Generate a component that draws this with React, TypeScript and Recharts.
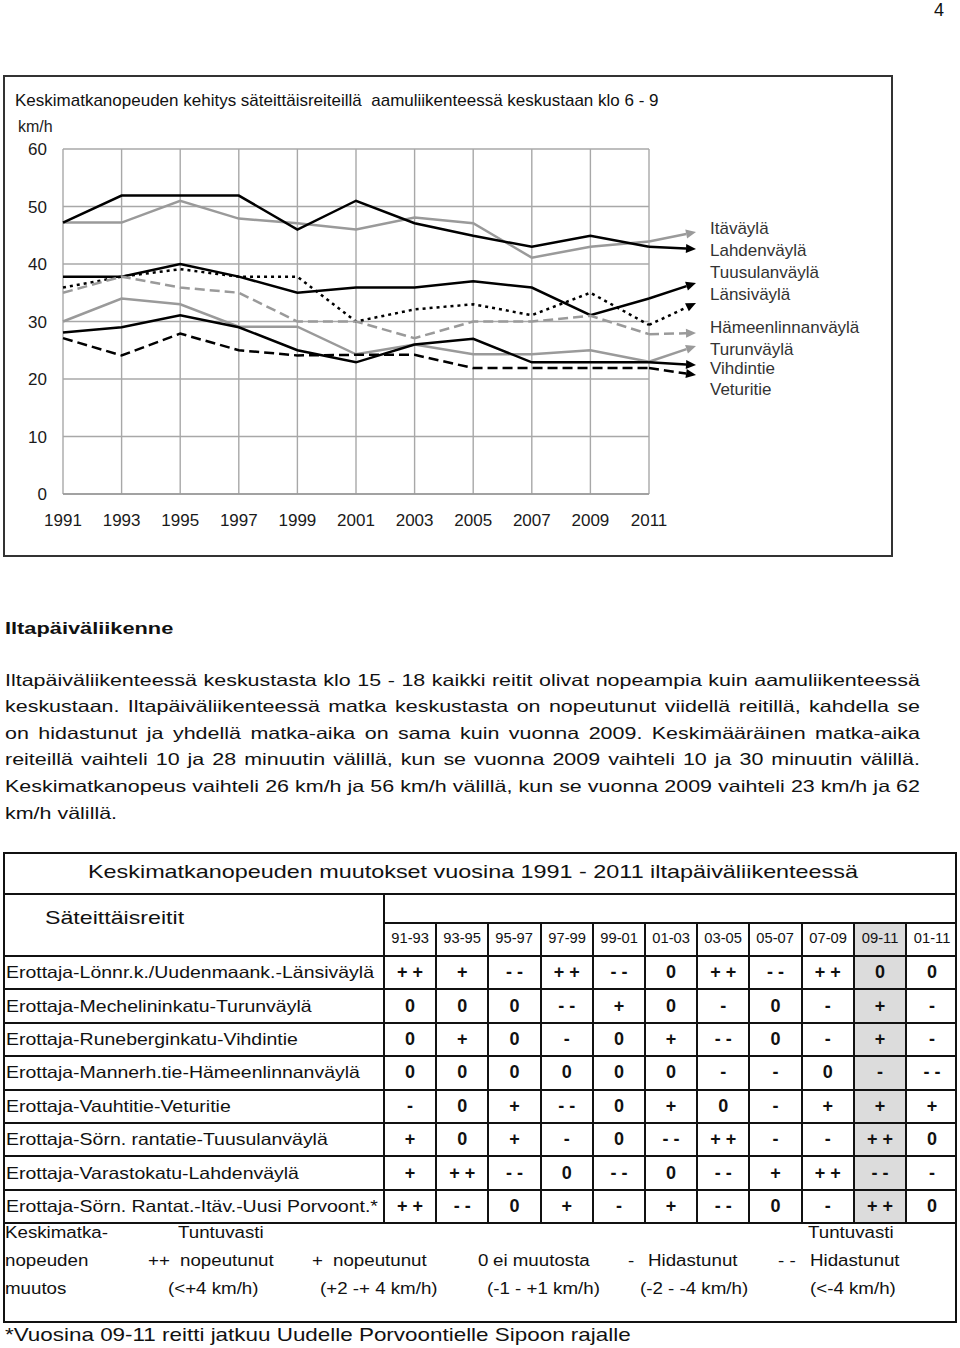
import React from 'react'
import { LineChart, Line, XAxis, YAxis, CartesianGrid } from 'recharts'

const years = ['1991', '1993', '1995', '1997', '1999', '2001', '2003', '2005', '2007', '2009', '2011']
const yTicks = [0, 10, 20, 30, 40, 50, 60]

// km/h
const itavayla = [47.2, 47.2, 51.0, 47.9, 47.1, 46.0, 48.1, 47.1, 41.1, 43.0, 43.9]
const lahdenvayla = [47.2, 51.9, 51.9, 51.9, 46.0, 51.0, 47.1, 44.9, 43.0, 44.9, 43.0]
const tuusulanvayla = [35.9, 37.8, 39.1, 37.8, 37.8, 30.0, 32.1, 33.0, 31.1, 35.0, 29.4]
const lansivayla = [37.8, 37.8, 40.0, 37.8, 35.0, 35.9, 35.9, 37.0, 35.9, 31.1, 34.0]
const hameenlinnanvayla = [35.0, 37.8, 35.9, 35.0, 30.0, 30.0, 27.1, 30.0, 30.0, 31.0, 27.8]
const turunvayla = [30.0, 34.0, 33.0, 29.1, 29.1, 24.3, 26.0, 24.3, 24.3, 25.0, 23.0]
const vihdintie = [28.1, 29.0, 31.1, 29.0, 25.0, 22.9, 26.0, 27.0, 22.9, 22.9, 22.9]
const veturitie = [27.1, 24.1, 27.9, 25.0, 24.1, 24.2, 24.2, 21.9, 21.9, 21.9, 21.9]

const legendNames = ['Itäväylä', 'Lahdenväylä', 'Tuusulanväylä', 'Länsiväylä', 'Hämeenlinnanväylä', 'Turunväylä', 'Vihdintie', 'Veturitie']

// table: afternoon changes
const periods = ['91-93', '93-95', '95-97', '97-99', '99-01', '01-03', '03-05', '05-07', '07-09', '09-11', '01-11']
const routes = [
  'Erottaja-Lönnr.k./Uudenmaank.-Länsiväylä',
  'Erottaja-Mechelininkatu-Turunväylä',
  'Erottaja-Runeberginkatu-Vihdintie',
  'Erottaja-Mannerh.tie-Hämeenlinnanväylä',
  'Erottaja-Vauhtitie-Veturitie',
  'Erottaja-Sörn. rantatie-Tuusulanväylä',
  'Erottaja-Varastokatu-Lahdenväylä',
  'Erottaja-Sörn. Rantat.-Itäv.-Uusi Porvoont.*',
]
const changes = [
  ['+ +', '+', '- -', '+ +', '- -', '0', '+ +', '- -', '+ +', '0', '0'],
  ['0', '0', '0', '- -', '+', '0', '-', '0', '-', '+', '-'],
  ['0', '+', '0', '-', '0', '+', '- -', '0', '-', '+', '-'],
  ['0', '0', '0', '0', '0', '0', '-', '-', '0', '-', '- -'],
  ['-', '0', '+', '- -', '0', '+', '0', '-', '+', '+', '+'],
  ['+', '0', '+', '-', '0', '- -', '+ +', '-', '-', '+ +', '0'],
  ['+', '+ +', '- -', '0', '- -', '0', '- -', '+', '+ +', '- -', '-'],
  ['+ +', '- -', '0', '+', '-', '+', '- -', '0', '-', '+ +', '0'],
]

const paragraph = [
  'Iltapäiväliikenteessä keskustasta klo 15 - 18 kaikki reitit olivat nopeampia kuin aamuliikenteessä',
  'keskustaan. Iltapäiväliikenteessä matka keskustasta on nopeutunut viidellä reitillä, kahdella se',
  'on hidastunut ja yhdellä matka-aika on sama kuin vuonna 2009. Keskimääräinen matka-aika',
  'reiteillä vaihteli 10 ja 28 minuutin välillä, kun se vuonna 2009 vaihteli 10 ja 30 minuutin välillä.',
  'Keskimatkanopeus vaihteli 26 km/h ja 56 km/h välillä, kun se vuonna 2009 vaihteli 23 km/h ja 62',
  'km/h välillä.',
]

const FONT = '"Liberation Sans", Arial, Helvetica, sans-serif'
const GRAY = '#9a9a9a'

const series = [
  { key: 'itavayla', data: itavayla, color: GRAY, dash: undefined, tipY: 232 },
  { key: 'lahdenvayla', data: lahdenvayla, color: '#000', dash: undefined, tipY: 249 },
  { key: 'tuusulanvayla', data: tuusulanvayla, color: '#000', dash: '3 4', tipY: 303 },
  { key: 'lansivayla', data: lansivayla, color: '#000', dash: undefined, tipY: 283 },
  { key: 'hameenlinnanvayla', data: hameenlinnanvayla, color: GRAY, dash: '10 5', tipY: 333 },
  { key: 'turunvayla', data: turunvayla, color: GRAY, dash: undefined, tipY: 346 },
  { key: 'vihdintie', data: vihdintie, color: '#000', dash: undefined, tipY: 365 },
  { key: 'veturitie', data: veturitie, color: '#000', dash: '10 5', tipY: 375 },
]

const rows = years.map((year, i) => {
  const r: Record<string, any> = { year }
  series.forEach((s) => { r[s.key] = s.data[i] })
  return r
})

const legendY = [228, 250, 272, 294, 327, 349, 368, 389]

// leader line with arrow from the last point to the legend
const leader = (tipY: number, color: string, dash?: string) => (p: any) => {
  const k = `d-${p.index}`
  if (p.index !== years.length - 1) return <g key={k} />
  const tx = 696
  const dx = tx - p.cx
  const dy = tipY - p.cy
  const len = Math.hypot(dx, dy) || 1
  const ux = dx / len
  const uy = dy / len
  const bx = tx - ux * 10
  const by = tipY - uy * 10
  return (
    <g key={k}>
      <line x1={p.cx} y1={p.cy} x2={bx} y2={by} stroke={color} strokeWidth={2.5} strokeDasharray={dash} />
      <polygon points={`${tx},${tipY} ${bx - uy * 4.5},${by + ux * 4.5} ${bx + uy * 4.5},${by - ux * 4.5}`} fill={color} />
    </g>
  )
}

function T({ x, y, size, sx = 1, w, align = 'left', bold, color = '#111', justify, children }: any) {
  const lh = Math.round(size * 1.25)
  return (
    <div
      style={{
        position: 'absolute', left: x, top: y - lh / 2, width: w, height: lh, lineHeight: `${lh}px`,
        fontSize: size, fontWeight: bold ? 700 : 400, color, whiteSpace: 'nowrap',
        textAlign: justify ? 'justify' : align, textAlignLast: justify ? 'justify' : undefined,
        transform: sx !== 1 ? `scaleX(${sx})` : undefined,
        transformOrigin: align === 'center' ? 'center' : 'left center',
      } as any}
    >
      {children}
    </div>
  )
}

const L = (x: number, y: number, w: number, h: number, key: string) => (
  <div key={key} style={{ position: 'absolute', left: x, top: y, width: w, height: h, background: '#111' }} />
)

export default function App() {
  const colX0 = 383
  const colW = 52.2
  const rowY0 = 955
  const rowH = 33.4
  const tableRight = 957
  const lines: React.ReactNode[] = []
  // table frame
  ;[852, 893, 955].forEach((y, i) => lines.push(L(3, y, tableRight - 3, 2, `h${i}`)))
  lines.push(L(colX0, 922, tableRight - colX0, 2, 'hh'))
  routes.forEach((_, i) => lines.push(L(3, rowY0 + rowH * (i + 1), tableRight - 3, 2, `r${i}`)))
  lines.push(L(3, 1321, tableRight - 3, 2, 'hb'))
  lines.push(L(3, 852, 2, 471, 'vl'))
  lines.push(L(tableRight - 2, 852, 2, 471, 'vr'))
  lines.push(L(colX0, 893, 2, rowY0 + rowH * 8 - 893, 'vc'))
  periods.forEach((_, k) => {
    if (k > 0) lines.push(L(colX0 + colW * k, 922, 2, rowY0 + rowH * 8 - 922, `vk${k}`))
  })

  return (
    <div style={{ position: 'absolute', left: 0, top: 0, width: 960, height: 1348, background: '#fff', fontFamily: FONT, overflow: 'hidden' }}>
      <T x={934} y={10} size={18}>4</T>

      {/* chart frame */}
      <div style={{ position: 'absolute', left: 3, top: 75, width: 890, height: 482, border: '2px solid #333', boxSizing: 'border-box' }} />
      <T x={15} y={100} size={17} color="#111">Keskimatkanopeuden kehitys säteittäisreiteillä&nbsp; aamuliikenteessä keskustaan klo 6 - 9</T>
      <T x={18} y={127} size={16} color="#222">km/h</T>

      <div style={{ position: 'absolute', left: 0, top: 0 }}>
        <LineChart width={960} height={560} data={rows} margin={{ top: 149, right: 311, left: 23, bottom: 36 }}>
          <CartesianGrid stroke="#a8a8a8" strokeWidth={1.4} />
          <XAxis
            dataKey="year"
            interval={0}
            tickLine={false}
            tickSize={0}
            tickMargin={20}
            axisLine={{ stroke: '#999', strokeWidth: 1.5 }}
            tick={{ fill: '#1a1a1a', fontSize: 17, fontFamily: FONT }}
            height={30}
          />
          <XAxis xAxisId="top" orientation="top" dataKey="year" tick={false} tickLine={false} height={0} axisLine={{ stroke: '#333', strokeWidth: 2 }} />
          <YAxis
            domain={[0, 60]}
            ticks={yTicks}
            interval={0}
            axisLine={false}
            tickLine={false}
            tickSize={0}
            tickMargin={16}
            width={40}
            tick={{ fill: '#1a1a1a', fontSize: 17, fontFamily: FONT }}
          />
          <YAxis yAxisId="right" orientation="right" domain={[0, 60]} tick={false} tickLine={false} width={0} axisLine={{ stroke: '#333', strokeWidth: 2 }} />
          {series.map((s) => (
            <Line
              key={s.key}
              dataKey={s.key}
              type="linear"
              stroke={s.color}
              strokeWidth={2.5}
              strokeDasharray={s.dash}
              dot={leader(s.tipY, s.color, s.dash)}
              activeDot={false}
              isAnimationActive={false}
            />
          ))}
        </LineChart>
      </div>

      {legendNames.map((n, i) => (
        <T key={n} x={710} y={legendY[i]} size={17} color="#333">{n}</T>
      ))}

      <T x={5} y={628} size={16.5} sx={1.32} bold>Iltapäiväliikenne</T>
      {paragraph.map((line, i) => (
        <T key={i} x={5} y={680 + i * 26.6} size={16.5} sx={1.3} w={i < paragraph.length - 1 ? 915 / 1.3 : undefined} justify={i < paragraph.length - 1}>
          {line}
        </T>
      ))}

      {/* table */}
      <div style={{ position: 'absolute', left: colX0 + colW * 9, top: 922, width: colW, height: rowY0 + rowH * 8 - 922, background: '#dcdcdc' }} />
      {lines}
      <T x={3} y={872} size={19} sx={1.23} w={940} align="center">Keskimatkanopeuden muutokset vuosina 1991 - 2011 iltapäiväliikenteessä</T>
      <T x={45} y={918} size={19} sx={1.22}>Säteittäisreitit</T>
      {periods.map((p, k) => (
        <T key={p} x={colX0 + colW * k + 1} y={938} size={14} sx={1.05} w={colW} align="center">{p}</T>
      ))}
      {routes.map((r, i) => (
        <React.Fragment key={r}>
          <T x={6} y={rowY0 + rowH * i + rowH / 2 + 1} size={16.5} sx={1.18}>{r}</T>
          {changes[i].map((c, k) => (
            <T key={k} x={colX0 + colW * k + 1} y={rowY0 + rowH * i + rowH / 2 + 1} size={18} w={colW} align="center" bold>{c}</T>
          ))}
        </React.Fragment>
      ))}

      <T x={5} y={1233} size={16} sx={1.17}>Keskimatka-</T>
      <T x={178} y={1233} size={16} sx={1.17}>Tuntuvasti</T>
      <T x={808} y={1233} size={16} sx={1.17}>Tuntuvasti</T>
      <T x={5} y={1261} size={16} sx={1.17}>nopeuden</T>
      <T x={148} y={1261} size={16} sx={1.17}>++</T>
      <T x={180} y={1261} size={16} sx={1.17}>nopeutunut</T>
      <T x={312} y={1261} size={16} sx={1.17}>+</T>
      <T x={333} y={1261} size={16} sx={1.17}>nopeutunut</T>
      <T x={478} y={1261} size={16} sx={1.17}>0</T>
      <T x={493} y={1261} size={16} sx={1.17}>ei muutosta</T>
      <T x={628} y={1261} size={16} sx={1.17}>-</T>
      <T x={648} y={1261} size={16} sx={1.17}>Hidastunut</T>
      <T x={778} y={1261} size={16} sx={1.17}>- -</T>
      <T x={810} y={1261} size={16} sx={1.17}>Hidastunut</T>
      <T x={5} y={1289} size={16} sx={1.17}>muutos</T>
      <T x={168} y={1289} size={16} sx={1.17}>(&lt;+4 km/h)</T>
      <T x={320} y={1289} size={16} sx={1.17}>(+2 -+ 4 km/h)</T>
      <T x={487} y={1289} size={16} sx={1.17}>(-1 - +1 km/h)</T>
      <T x={640} y={1289} size={16} sx={1.17}>(-2 - -4 km/h)</T>
      <T x={810} y={1289} size={16} sx={1.17}>(&lt;-4 km/h)</T>

      <T x={5} y={1335} size={19} sx={1.18}>*Vuosina 09-11 reitti jatkuu Uudelle Porvoontielle Sipoon rajalle</T>
    </div>
  )
}
